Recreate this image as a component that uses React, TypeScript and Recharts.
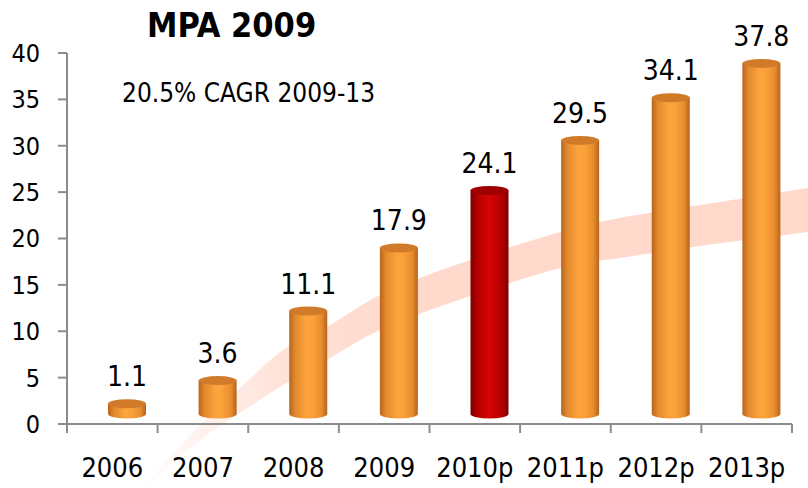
import React from 'react'
import { BarChart, Bar, XAxis, YAxis, LabelList } from 'recharts'

// chart values
const years = ['2006', '2007', '2008', '2009', '2010p', '2011p', '2012p', '2013p']
const values = [1.1, 3.6, 11.1, 17.9, 24.1, 29.5, 34.1, 37.8]
const yTicks = [0, 5, 10, 15, 20, 25, 30, 35, 40]
const highlightYear = '2010p'
const title = 'MPA 2009'
const note = '20.5% CAGR 2009-13'

const data = years.map((year, i) => ({ year, value: values[i] }))

const FONT = "'DejaVu Sans Condensed', 'DejaVu Sans', sans-serif"
const AXIS = '#8C8C8C'
const W = 808
const H = 488
const PLOT_LEFT = 67
const PLOT_RIGHT = 792
const HALF_BAND = (PLOT_RIGHT - PLOT_LEFT) / years.length / 2
// 3D depth offset of the cylinders
const DX = 15
const DY = -10
const RY = 4.5

// decorative growth band behind the bars
const bandTop = [[140, 488], [200, 425], [240, 388], [283, 350], [330, 325], [380, 295], [450, 267], [560, 232], [620, 218], [700, 205], [808, 188]]
const bandBottom = [[808, 232], [700, 246], [620, 258], [560, 268], [450, 303], [380, 330], [330, 358], [283, 385], [240, 413], [200, 440], [145, 488]]

function smooth(pts: number[][]) {
  let d = ''
  for (let i = 0; i < pts.length - 1; i++) {
    const p0 = pts[Math.max(0, i - 1)]
    const p1 = pts[i]
    const p2 = pts[i + 1]
    const p3 = pts[Math.min(pts.length - 1, i + 2)]
    const c1x = p1[0] + (p2[0] - p0[0]) / 6
    const c1y = p1[1] + (p2[1] - p0[1]) / 6
    const c2x = p2[0] - (p3[0] - p1[0]) / 6
    const c2y = p2[1] - (p3[1] - p1[1]) / 6
    d += ` C${c1x},${c1y} ${c2x},${c2y} ${p2[0]},${p2[1]}`
  }
  return d
}

const bandPath =
  `M${bandTop[0][0]},${bandTop[0][1]}` + smooth(bandTop) +
  ` L${bandBottom[0][0]},${bandBottom[0][1]}` + smooth(bandBottom) + ' Z'

function Cylinder(props: any) {
  const { x, y, width, height, payload } = props
  const red = payload.year === highlightYear
  const left = x + DX
  const top = y + DY
  const bottom = y + height + DY
  const rx = width / 2
  return (
    <g>
      <path
        d={`M${left},${top} L${left},${bottom} A${rx},${RY} 0 0 0 ${left + width},${bottom} L${left + width},${top} Z`}
        fill={red ? 'url(#cylRed)' : 'url(#cylOrange)'}
      />
      <ellipse cx={left + rx} cy={top} rx={rx} ry={RY} fill={red ? '#9E0000' : '#D17B2A'} />
    </g>
  )
}

function ValueLabel(props: any) {
  const { x, y, width, value } = props
  return (
    <text
      x={x + DX + width / 2}
      y={y + DY - RY - 13}
      textAnchor="middle"
      fontFamily={FONT}
      fontSize={28}
      fill="#000"
    >
      {value}
    </text>
  )
}

function YearTick(props: any) {
  const { x, y, payload, index } = props
  const last = index === years.length - 1
  return (
    <g>
      <line x1={x - HALF_BAND} y1={y} x2={x - HALF_BAND} y2={y + 9} stroke={AXIS} strokeWidth={2} />
      {last && <line x1={x + HALF_BAND} y1={y} x2={x + HALF_BAND} y2={y + 9} stroke={AXIS} strokeWidth={2} />}
      <text x={x} y={y + 53} textAnchor="middle" fontFamily={FONT} fontSize={27} fill="#000">
        {payload.value}
      </text>
    </g>
  )
}

export default function App() {
  return (
    <div style={{ position: 'absolute', left: 0, top: 0, width: W, height: H, background: '#fff' }}>
      <svg width={W} height={H} style={{ position: 'absolute', left: 0, top: 0 }}>
        <defs>
          <linearGradient id="bandFade" x1="140" y1="0" x2="420" y2="0" gradientUnits="userSpaceOnUse">
            <stop offset="0" stopColor="#FFD6C8" stopOpacity={0} />
            <stop offset="0.5" stopColor="#FFD6C8" stopOpacity={0.7} />
            <stop offset="1" stopColor="#FFD9CC" stopOpacity={1} />
          </linearGradient>
          <linearGradient id="cylOrange" x1="0" y1="0" x2="1" y2="0">
            <stop offset="0" stopColor="#B8641C" />
            <stop offset="0.15" stopColor="#E0882C" />
            <stop offset="0.45" stopColor="#FDA43D" />
            <stop offset="0.6" stopColor="#FCA23B" />
            <stop offset="0.85" stopColor="#E88D2E" />
            <stop offset="1" stopColor="#B5631C" />
          </linearGradient>
          <linearGradient id="cylRed" x1="0" y1="0" x2="1" y2="0">
            <stop offset="0" stopColor="#7E0000" />
            <stop offset="0.2" stopColor="#B80000" />
            <stop offset="0.5" stopColor="#D40404" />
            <stop offset="0.8" stopColor="#B80000" />
            <stop offset="1" stopColor="#820000" />
          </linearGradient>
        </defs>
        <path d={bandPath} fill="url(#bandFade)" />
        <text x={147} y={37} fontFamily={FONT} fontWeight="bold" fontSize={34} fill="#000">
          {title}
        </text>
        <text x={122} y={102} fontFamily={FONT} fontSize={26} fill="#000">
          {note}
        </text>
      </svg>
      <div style={{ position: 'absolute', left: 0, top: 0 }}>
        <BarChart width={W} height={H} data={data} margin={{ top: 53, right: W - PLOT_RIGHT, left: 0, bottom: 0 }}>
          <XAxis
            dataKey="year"
            height={64}
            axisLine={{ stroke: AXIS, strokeWidth: 2 }}
            tickLine={false}
            tickSize={0}
            tickMargin={0}
            interval={0}
            tick={<YearTick />}
          />
          <YAxis
            width={PLOT_LEFT}
            domain={[0, 40]}
            ticks={yTicks}
            interval={0}
            axisLine={{ stroke: AXIS, strokeWidth: 2 }}
            tickLine={{ stroke: AXIS, strokeWidth: 2 }}
            tickSize={9}
            tickMargin={18}
            tick={{ fill: '#000', fontSize: 25, fontFamily: FONT }}
          />
          <Bar dataKey="value" barSize={38} shape={<Cylinder />} isAnimationActive={false}>
            <LabelList dataKey="value" content={<ValueLabel />} />
          </Bar>
        </BarChart>
      </div>
    </div>
  )
}
